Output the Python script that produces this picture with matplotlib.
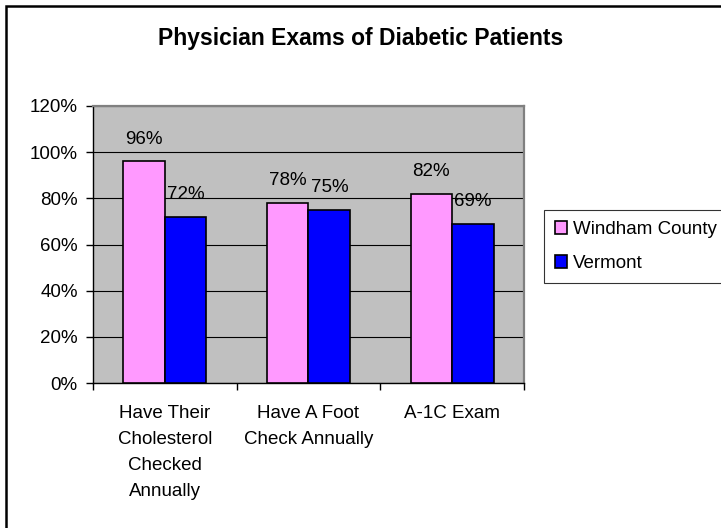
"""Physician exams of diabetic patients: Windham County vs Vermont."""
import matplotlib

matplotlib.use("Agg")
import matplotlib.pyplot as plt
import numpy as np
from matplotlib.patches import Rectangle

categories = [
    "Have Their\nCholesterol\nChecked\nAnnually",
    "Have A Foot\nCheck Annually",
    "A-1C Exam",
]
windham = [96, 78, 82]
vermont = [72, 75, 69]
series_names = ["Windham County", "Vermont"]
yticks = [0, 20, 40, 60, 80, 100, 120]

plt.rcParams["font.family"] = ["Liberation Sans", "DejaVu Sans"]
FS = 13.5

fig = plt.figure(figsize=(7.21, 5.28), dpi=100)
# outer chart border (only top and left edges visible in the reference)
fig.patches.append(Rectangle((6 / 721, -0.05), 1.1, 1 - 6 / 528 + 0.05,
                             transform=fig.transFigure, fill=False,
                             edgecolor="black", linewidth=1.8))

ax = fig.add_axes([93 / 721, 1 - 383 / 528, (524 - 93) / 721, (383 - 106) / 528])
ax.set_facecolor("#C0C0C0")

x = np.arange(len(categories))
width = 0.29
b1 = ax.bar(x - width / 2, windham, width, color="#FF99FF", edgecolor="black",
            linewidth=1.2, label=series_names[0], zorder=3)
b2 = ax.bar(x + width / 2, vermont, width, color="#0000FF", edgecolor="black",
            linewidth=1.2, label=series_names[1], zorder=3)

for bars in (b1, b2):
    for rect in bars:
        h = rect.get_height()
        ax.annotate(f"{h:.0f}%", (rect.get_x() + rect.get_width() / 2, h),
                    xytext=(0, 10), textcoords="offset points",
                    ha="center", va="bottom", fontsize=FS, zorder=4)

ax.set_xlim(-0.5, len(categories) - 0.5)
ax.set_ylim(0, 120)
ax.set_yticks(yticks)
ax.set_yticklabels([f"{v}%" for v in yticks], fontsize=FS)
ax.yaxis.grid(True, color="black", linewidth=0.8, zorder=1)

ax.set_xticks(np.arange(len(categories) + 1) - 0.5)
ax.set_xticklabels([])
ax.set_xticks(x, minor=True)
ax.set_xticklabels(categories, minor=True, fontsize=FS, linespacing=1.68, va="top")
ax.tick_params(axis="x", which="minor", length=0, pad=16)
ax.tick_params(axis="x", which="major", length=5, direction="out", width=1)
ax.tick_params(axis="y", length=5, direction="out", width=1, pad=6)

for side in ("top", "right"):
    ax.spines[side].set_color("#808080")
    ax.spines[side].set_linewidth(1.6)
for side in ("left", "bottom"):
    ax.spines[side].set_color("black")
    ax.spines[side].set_linewidth(1)

fig.text(0.5, 1 - 39 / 528, "Physician Exams of Diabetic Patients",
         ha="center", va="center", fontsize=16.5, fontweight="bold")

leg = fig.legend(handles=[b1, b2], loc="upper left",
                 bbox_to_anchor=(544 / 721, 1 - 210 / 528), fontsize=FS,
                 frameon=True, fancybox=False, borderpad=0.6,
                 handlelength=0.65, handleheight=0.65, handletextpad=0.3,
                 labelspacing=0.9, borderaxespad=0)
leg.get_frame().set_edgecolor("black")
leg.get_frame().set_linewidth(0.8)

fig.savefig("out.png", dpi=100)
